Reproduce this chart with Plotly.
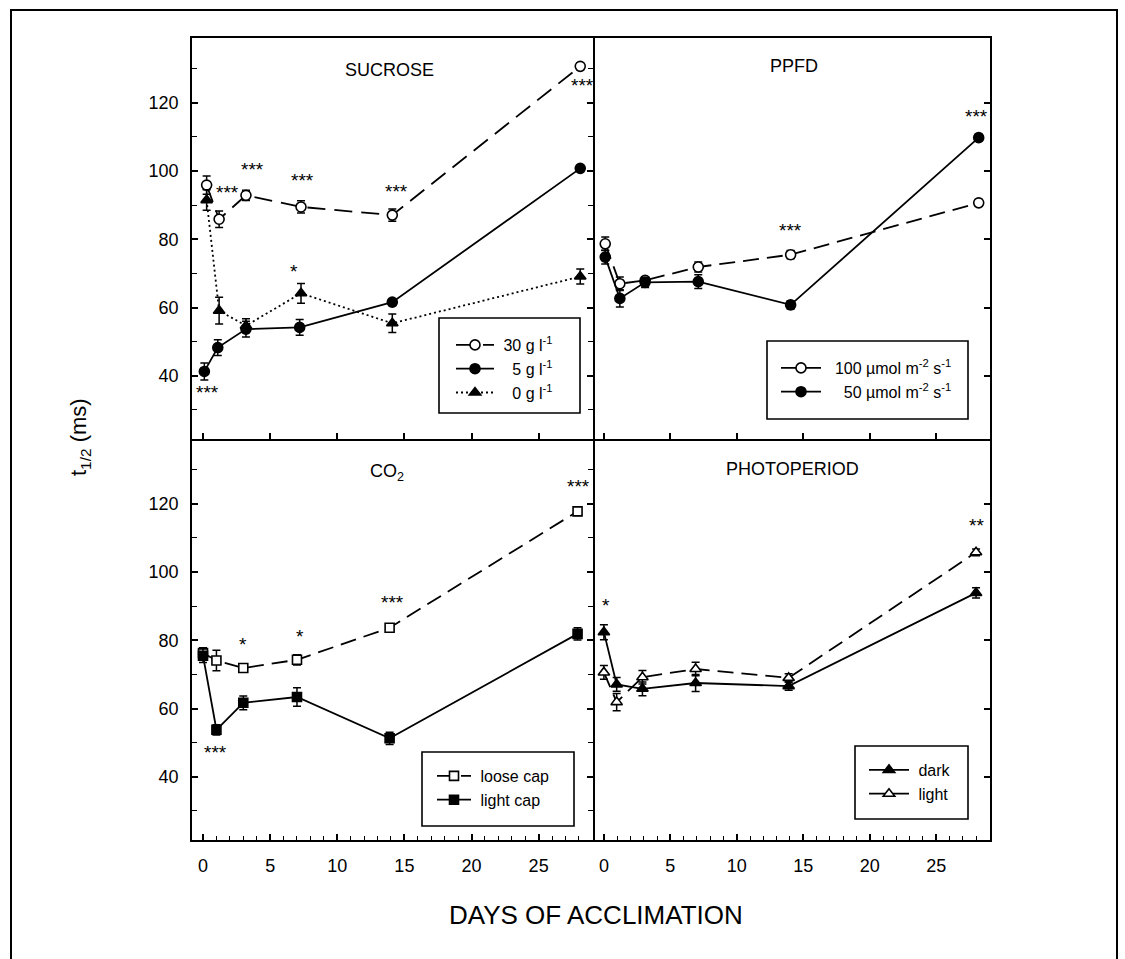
import plotly.graph_objects as go

W, H = 1125, 959
FONT = "Liberation Sans, Arial, Helvetica, sans-serif"

# ---------------- data ----------------
# SUCROSE panel
suc_days = [0.27, 1.2, 3.2, 7.3, 14.1, 28.1]
suc30 = [95.9, 85.9, 92.9, 89.5, 87.1, 130.7]
suc30_err = [2.7, 2.4, 1.5, 1.8, 1.8, 0.8]
suc5_days = [0.1, 1.1, 3.2, 7.2, 14.1, 28.1]
suc5 = [41.3, 48.3, 53.7, 54.2, 61.6, 100.8]
suc5_err = [2.5, 2.3, 2.3, 2.3, 1.0, 0.8]
suc0 = [91.5, 59.1, 54.7, 64.2, 55.4, 69.1]
suc0_err = [3.0, 3.9, 2.0, 2.9, 2.7, 2.2]
suc_star_x = [0.37, 1.86, 3.7, 7.4, 6.8, 14.4, 28.3]
suc_star_y = [36.2, 95.0, 101.5, 98.5, 71.8, 95.3, 126.2]
suc_star_t = ["***", "***", "***", "***", "*", "***", "***"]

# PPFD panel
ppfd_days = [0.1, 1.2, 3.1, 7.1, 14.05, 28.2]
ppfd100 = [78.7, 67.0, 68.0, 71.9, 75.5, 90.7]
ppfd100_err = [2.0, 2.0, 1.0, 1.5, 1.2, 1.0]
ppfd50 = [74.8, 62.7, 67.4, 67.6, 60.8, 109.8]
ppfd50_err = [2.0, 2.5, 1.5, 2.0, 1.2, 1.0]
ppfd_star_x = [14.05, 28.0]
ppfd_star_y = [83.9, 117.1]
ppfd_star_t = ["***", "***"]

# CO2 panel
co2_days = [0.0, 1.0, 3.0, 7.0, 13.9, 27.9]
loose = [76.3, 74.1, 71.9, 74.3, 83.7, 117.8]
loose_err = [1.5, 3.0, 1.2, 1.5, 1.2, 1.2]
tight = [75.5, 53.8, 61.7, 63.4, 51.3, 81.9]
tight_err = [2.0, 1.5, 2.0, 2.7, 1.8, 1.8]
co2_star_x = [0.9, 3.0, 7.2, 14.1, 28.0]
co2_star_y = [48.3, 80.1, 82.4, 92.3, 126.2]
co2_star_t = ["***", "*", "*", "***", "***"]

# PHOTOPERIOD panel
ph_days = [0.0, 0.96, 2.9, 6.9, 13.9, 28.0]
dark = [82.4, 67.1, 65.8, 67.5, 66.6, 93.9]
dark_err = [2.2, 2.0, 2.0, 2.5, 1.2, 1.5]
light = [70.6, 61.9, 69.2, 71.6, 69.0, 105.8]
light_err = [2.0, 2.5, 2.0, 2.0, 1.2, 1.0]
ph_star_x = [0.15, 28.0]
ph_star_y = [91.3, 114.8]
ph_star_t = ["*", "**"]

x_ticks = [0, 5, 10, 15, 20, 25]
y_ticks = [40, 60, 80, 100, 120]
X_RANGE = [-0.82, 29.05]
Y_RANGE = [21.5, 139]

# ---------------- helpers ----------------
def px(x):
    return x / W

def py(y):
    return 1 - y / H

fig = go.Figure()

def add_series(x, y, err, name, xa, ya, leg, symbol, fill, dash):
    fig.add_trace(go.Scatter(
        x=x, y=y, name=name, mode="lines+markers",
        xaxis=xa, yaxis=ya, legend=leg,
        line=dict(color="black", width=1.8, dash=dash),
        marker=dict(symbol=symbol, size=10 if "square" not in symbol else 9,
                    color=fill, line=dict(color="black", width=1.6)),
        error_y=dict(type="data", array=err, visible=True, color="black",
                     thickness=1.5, width=4),
    ))

LONG = "18px,9px"
DASH = "16px,8px"
DOT = "2px,3px"

add_series(suc_days, suc30, suc30_err, " 30 g l<sup>-1</sup>", "x", "y", "legend", "circle", "white", LONG)
add_series(suc5_days, suc5, suc5_err, "   5 g l<sup>-1</sup>", "x", "y", "legend", "circle", "black", "solid")
add_series(suc_days, suc0, suc0_err, "   0 g l<sup>-1</sup>", "x", "y", "legend", "triangle-up", "black", DOT)

add_series(ppfd_days, ppfd100, ppfd100_err, "  100 µmol m<sup>-2</sup> s<sup>-1</sup>", "x2", "y2", "legend2", "circle", "white", DASH)
add_series(ppfd_days, ppfd50, ppfd50_err, "    50 µmol m<sup>-2</sup> s<sup>-1</sup>", "x2", "y2", "legend2", "circle", "black", "solid")

add_series(co2_days, loose, loose_err, " loose cap", "x3", "y3", "legend3", "square", "white", DASH)
add_series(co2_days, tight, tight_err, " light cap", "x3", "y3", "legend3", "square", "black", "solid")

add_series(ph_days, dark, dark_err, " dark", "x4", "y4", "legend4", "triangle-up", "black", "solid")
add_series(ph_days, light, light_err, " light", "x4", "y4", "legend4", "triangle-up", "white", DASH)

# significance stars
ann = []
for xs, ys, ts, xr, yr in [(suc_star_x, suc_star_y, suc_star_t, "x", "y"),
                           (ppfd_star_x, ppfd_star_y, ppfd_star_t, "x2", "y2"),
                           (co2_star_x, co2_star_y, co2_star_t, "x3", "y3"),
                           (ph_star_x, ph_star_y, ph_star_t, "x4", "y4")]:
    for a, b, t in zip(xs, ys, ts):
        ann.append(dict(x=a, y=b, xref=xr, yref=yr, text=t, showarrow=False,
                        font=dict(family=FONT, size=19, color="black"),
                        xanchor="center", yanchor="middle", yshift=-4))

# panel titles
for t, xx, yy in [("SUCROSE", 389, 70), ("PPFD", 794, 66),
                  ("CO<sub>2</sub>", 387, 473), ("PHOTOPERIOD", 792, 469)]:
    ann.append(dict(x=px(xx), y=py(yy), xref="paper", yref="paper", text=t,
                    showarrow=False, xanchor="center", yanchor="middle",
                    font=dict(family=FONT, size=18, color="black")))

# axis titles
ann.append(dict(x=px(80), y=py(437), xref="paper", yref="paper",
                text="t<sub>1/2</sub> (ms)", textangle=-90, showarrow=False,
                xanchor="center", yanchor="middle",
                font=dict(family=FONT, size=22, color="black")))
ann.append(dict(x=px(596), y=py(915), xref="paper", yref="paper",
                text="DAYS OF ACCLIMATION", showarrow=False,
                xanchor="center", yanchor="middle",
                font=dict(family=FONT, size=26, color="black")))

# layout
L1, M, R2 = 192, 593, 990
T1, MID, B2 = 38, 439, 840
dx1 = [px(L1), px(M)]
dx2 = [px(M), px(R2)]
dyt = [py(MID), py(T1)]
dyb = [py(B2), py(MID)]

tickfont = dict(family=FONT, size=18, color="black")
LW = 1.8

def xaxis(dom, anchor, labels):
    d = dict(domain=dom, anchor=anchor, range=X_RANGE, tickvals=x_ticks,
             ticks="inside", ticklen=6, tickwidth=1.5, tickcolor="black",
             showline=True, linecolor="black", linewidth=LW,
             mirror=(not labels),
             showgrid=False, zeroline=False, showticklabels=labels,
             tickfont=tickfont, ticklabelstandoff=8)
    if labels:
        d["minor"] = dict(dtick=1, tick0=0, ticks="inside", ticklen=4,
                          tickwidth=1.2, tickcolor="black", showgrid=False)
    return d

def yaxis_left(dom, anchor):
    return dict(domain=dom, anchor=anchor, range=Y_RANGE, tickvals=y_ticks,
                ticks="inside", ticklen=6, tickwidth=1.5, tickcolor="black",
                showline=True, linecolor="black", linewidth=LW, mirror="ticks",
                showgrid=False, zeroline=False, tickfont=tickfont,
                ticklabelstandoff=8,
                minor=dict(dtick=10, tick0=0, ticks="inside", ticklen=5,
                           tickwidth=1.2, tickcolor="black", showgrid=False))

def yaxis_right(dom, anchor):
    return dict(domain=dom, anchor=anchor, range=Y_RANGE, tickvals=y_ticks,
                side="right", ticks="inside", ticklen=6, tickwidth=1.5,
                tickcolor="black", showline=True, linecolor="black",
                linewidth=LW, mirror=False, showgrid=False, zeroline=False,
                showticklabels=False)

def legend(x, row1, iw):
    return dict(x=px(x), y=py(row1 - 19), xanchor="left", yanchor="top",
                bgcolor="rgba(0,0,0,0)", borderwidth=0, itemwidth=iw,
                font=dict(family=FONT, size=16, color="black"),
                traceorder="normal")

def box(x0, y0, x1, y1):
    return dict(type="rect", xref="paper", yref="paper",
                x0=px(x0), x1=px(x1), y0=py(y1), y1=py(y0),
                line=dict(color="black", width=1.6), fillcolor="white",
                layer="below")

fig.update_layout(
    width=W, height=H, margin=dict(l=0, r=0, t=0, b=0),
    paper_bgcolor="white", plot_bgcolor="rgba(0,0,0,0)",
    font=dict(family=FONT, color="black"),
    showlegend=True,
    xaxis=xaxis(dx1, "y", False), yaxis=yaxis_left(dyt, "x"),
    xaxis2=xaxis(dx2, "y2", False), yaxis2=yaxis_right(dyt, "x2"),
    xaxis3=xaxis(dx1, "y3", True), yaxis3=yaxis_left(dyb, "x3"),
    xaxis4=xaxis(dx2, "y4", True), yaxis4=yaxis_right(dyb, "x4"),
    legend=legend(451, 347, 38), legend2=legend(776, 370, 40),
    legend3=legend(432, 778, 34), legend4=legend(864, 772, 40),
    annotations=ann,
    shapes=[dict(type="rect", xref="paper", yref="paper",
                 x0=px(11), x1=px(1117), y0=py(980), y1=py(10),
                 line=dict(color="black", width=2), fillcolor="rgba(0,0,0,0)",
                 layer="below"),
            box(439, 318, 580, 413), box(767, 341, 968, 419),
            box(422, 752, 574, 826), box(855, 746, 968, 819)],
)

fig.write_html("out.html")
